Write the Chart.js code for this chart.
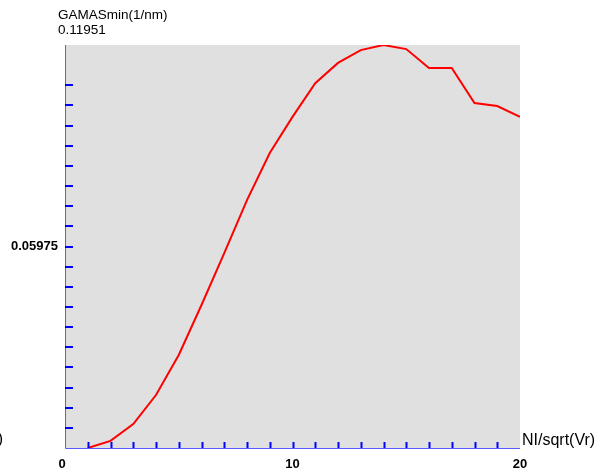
<!DOCTYPE html>
<html>
<head>
<meta charset="utf-8">
<script src="https://cdn.jsdelivr.net/npm/chart.js@4/dist/chart.umd.min.js"></script>
<style>
  body { margin: 0; background: #fff; }
  #gamaChart { display: block; }
</style>
</head>
<body>
<canvas id="gamaChart" width="605" height="475"></canvas>
<script>
// NI/sqrt(Vr) sample points and the GAMASmin value at each one
const niValues = [1, 2, 3, 4, 5, 6, 7, 8, 9, 10, 11, 12, 13, 14, 15, 16, 17, 18, 19, 20];
const gamaValues = [
  0.0, 0.0021, 0.0071, 0.0157, 0.0276, 0.0424, 0.0578, 0.0735, 0.0875, 0.0982,
  0.1082, 0.1142, 0.1180, 0.11951, 0.1183, 0.1127, 0.1127, 0.1023, 0.1014, 0.0982,
];

const xTickLabels = [0, 10, 20];
const yMax = 0.11951;
const yMid = 0.05975;
const yStep = yMax / 20;
const yTickCount = 18;

const axisColor = "#0000ff";
const font = "'Liberation Sans', Arial, sans-serif";

const points = niValues.map((x, i) => ({ x: x, y: gamaValues[i] }));

// grey plot area, blue axes with inward ticks, and the axis texts
const frame = {
  id: "frame",
  beforeDraw(chart) {
    const { ctx, chartArea: a } = chart;
    ctx.save();
    ctx.fillStyle = "#e0e0e0";
    ctx.fillRect(a.left, a.top, a.right - a.left, a.bottom - a.top);
    ctx.restore();
  },
  afterDraw(chart) {
    const { ctx, chartArea: a, scales } = chart;
    const xs = scales.x;
    const ys = scales.y;
    ctx.save();

    // axis lines
    ctx.strokeStyle = "#5a5aff";
    ctx.lineWidth = 1;
    ctx.beginPath();
    ctx.moveTo(a.left + 0.5, a.top);
    ctx.lineTo(a.left + 0.5, a.bottom + 0.5);
    ctx.lineTo(a.right, a.bottom + 0.5);
    ctx.stroke();

    // tick marks
    ctx.strokeStyle = axisColor;
    ctx.lineWidth = 2;
    ctx.beginPath();
    for (let i = 1; i < 20; i++) {
      const px = Math.round(xs.getPixelForValue(i)) + 0.5;
      ctx.moveTo(px, a.bottom);
      ctx.lineTo(px, a.bottom - 6);
    }
    for (let k = 1; k <= yTickCount; k++) {
      const py = Math.round(ys.getPixelForValue(k * yStep));
      ctx.moveTo(a.left, py);
      ctx.lineTo(a.left + 8, py);
    }
    ctx.stroke();

    // tick labels
    ctx.fillStyle = "#000";
    ctx.font = "bold 13px " + font;
    ctx.textBaseline = "middle";
    ctx.textAlign = "center";
    xTickLabels.forEach((v) => {
      ctx.fillText(String(v), xs.getPixelForValue(v) - (v === 0 ? 3 : 0), a.bottom + 16);
    });
    ctx.textAlign = "right";
    ctx.fillText(yMid.toFixed(5), a.left - 7, ys.getPixelForValue(yMid));

    // axis titles
    ctx.font = "13.5px " + font;
    ctx.textAlign = "left";
    ctx.fillText("GAMASmin(1/nm)", a.left - 7, 15);
    ctx.fillText(yMax.toFixed(5), a.left - 7, 30);

    ctx.font = "16px " + font;
    ctx.fillText("NI/sqrt(Vr)", a.right + 2, a.bottom - 7);
    ctx.textAlign = "right";
    ctx.fillText(")", 3, a.bottom - 8);

    ctx.restore();
  },
};

new Chart(document.getElementById("gamaChart"), {
  type: "line",
  data: {
    datasets: [
      {
        data: points,
        borderColor: "#ff0000",
        borderWidth: 2,
        pointRadius: 0,
        tension: 0,
        fill: false,
      },
    ],
  },
  options: {
    responsive: false,
    animation: false,
    layout: { padding: { left: 65, top: 45, right: 85, bottom: 27 } },
    plugins: { legend: { display: false }, tooltip: { enabled: false } },
    scales: {
      x: { type: "linear", min: 0, max: 20, display: false },
      y: { type: "linear", min: 0, max: yMax, display: false },
    },
  },
  plugins: [frame],
});
</script>
</body>
</html>
